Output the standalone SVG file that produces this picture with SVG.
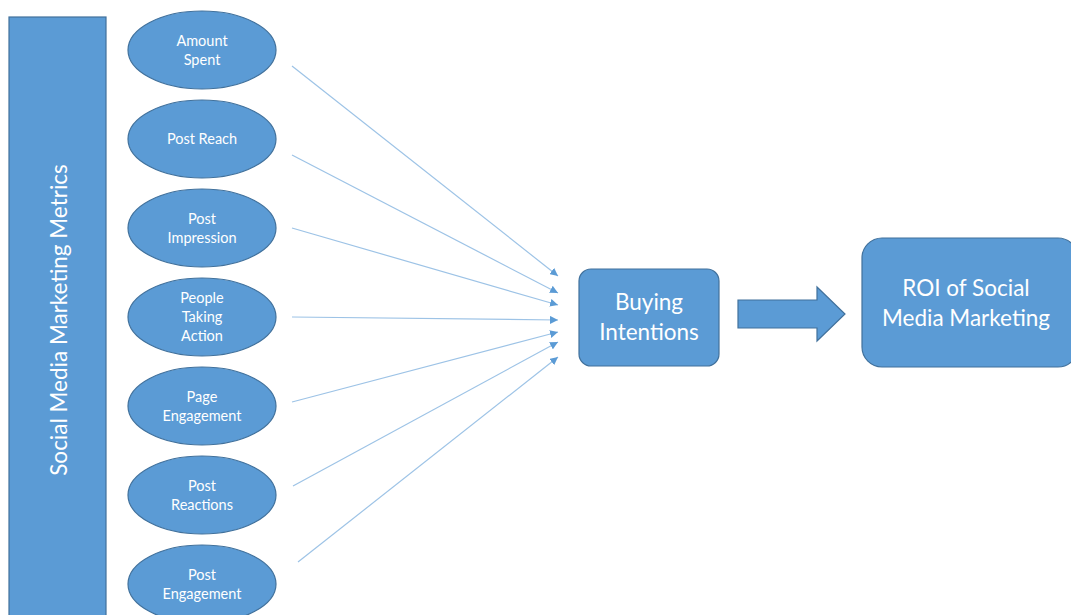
<svg xmlns="http://www.w3.org/2000/svg" width="1071" height="615" viewBox="0 0 1071 615">
  <style>
    .shape { fill: #5B9BD5; stroke: #41719C; stroke-width: 1.2; }
    .lbl { fill: #FFFFFF; font-family: Lato, "Open Sans", "Liberation Sans", sans-serif; text-anchor: middle; }
    .small { font-size: 14.5px; }
    .big { font-size: 22.5px; }
    .link { stroke: #9DC3E6; stroke-width: 1.2; fill: none; marker-end: url(#tip); }
  </style>
  <defs>
    <marker id="tip" viewBox="0 0 10 10" refX="10" refY="5" markerWidth="8" markerHeight="8" markerUnits="userSpaceOnUse" orient="auto">
      <path d="M0,0 L10,5 L0,10 Z" fill="#5B9BD5"/>
    </marker>
  </defs>
  <rect width="1071" height="615" fill="#FFFFFF"/>

  <!-- vertical category bar -->
  <g id="metrics-bar">
    <rect class="shape" x="9" y="17" width="97" height="610"/>
    <text class="lbl big" transform="translate(67,320) rotate(-90)">Social Media Marketing Metrics</text>
  </g>

  <!-- metric ellipses -->
  <g id="amount-spent">
    <ellipse class="shape" cx="202" cy="50" rx="74" ry="39"/>
    <text class="lbl small" x="202" y="46">Amount</text>
    <text class="lbl small" x="202" y="65">Spent</text>
  </g>
  <g id="post-reach">
    <ellipse class="shape" cx="202" cy="139" rx="74" ry="39"/>
    <text class="lbl small" x="202" y="144">Post Reach</text>
  </g>
  <g id="post-impression">
    <ellipse class="shape" cx="202" cy="228" rx="74" ry="39"/>
    <text class="lbl small" x="202" y="224">Post</text>
    <text class="lbl small" x="202" y="243">Impression</text>
  </g>
  <g id="people-taking-action">
    <ellipse class="shape" cx="202" cy="317" rx="74" ry="39"/>
    <text class="lbl small" x="202" y="303">People</text>
    <text class="lbl small" x="202" y="322">Taking</text>
    <text class="lbl small" x="202" y="341">Action</text>
  </g>
  <g id="page-engagement">
    <ellipse class="shape" cx="202" cy="406" rx="74" ry="39"/>
    <text class="lbl small" x="202" y="402">Page</text>
    <text class="lbl small" x="202" y="421">Engagement</text>
  </g>
  <g id="post-reactions">
    <ellipse class="shape" cx="202" cy="495" rx="74" ry="39"/>
    <text class="lbl small" x="202" y="491">Post</text>
    <text class="lbl small" x="202" y="510">Reactions</text>
  </g>
  <g id="post-engagement">
    <ellipse class="shape" cx="202" cy="584" rx="74" ry="39"/>
    <text class="lbl small" x="202" y="580">Post</text>
    <text class="lbl small" x="202" y="599">Engagement</text>
  </g>

  <!-- connectors into Buying Intentions -->
  <g id="connectors">
    <line class="link" x1="292" y1="66" x2="558" y2="276"/>
    <line class="link" x1="292" y1="155" x2="558" y2="293"/>
    <line class="link" x1="292" y1="228" x2="558" y2="305"/>
    <line class="link" x1="292" y1="317" x2="558" y2="320"/>
    <line class="link" x1="292" y1="402" x2="558" y2="332"/>
    <line class="link" x1="293" y1="486" x2="558" y2="342"/>
    <line class="link" x1="298" y1="562" x2="558" y2="357"/>
    <!-- block arrow -->
    <path class="shape" d="M738,300 L817,300 L817,287 L845,314 L817,341 L817,328 L738,328 Z"/>
  </g>

  <g id="buying-intentions">
    <rect class="shape" x="579" y="269" width="140" height="97" rx="12"/>
    <text class="lbl big" x="649" y="310">Buying</text>
    <text class="lbl big" x="649" y="340">Intentions</text>
  </g>

  <g id="roi">
    <rect class="shape" x="862" y="238" width="216" height="129" rx="20"/>
    <text class="lbl big" x="966" y="296">ROI of Social</text>
    <text class="lbl big" x="966" y="326">Media Marketing</text>
  </g>
</svg>
